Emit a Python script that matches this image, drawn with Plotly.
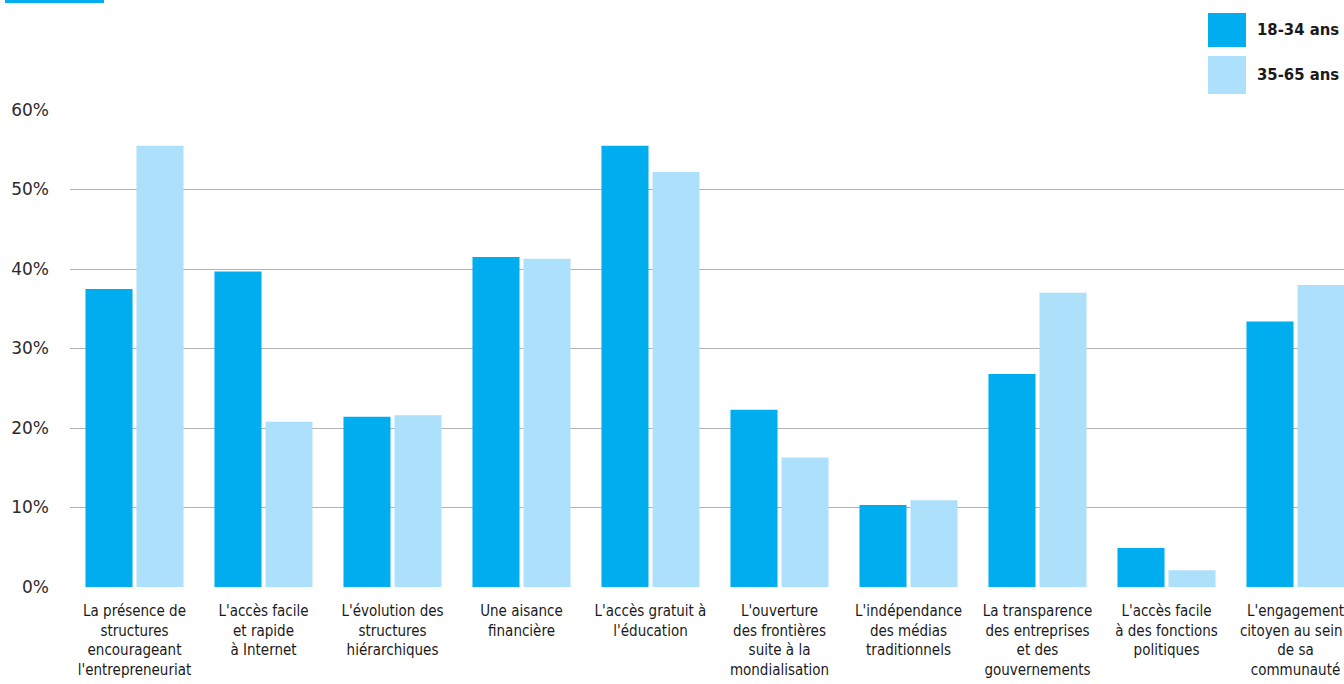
import plotly.graph_objects as go

# Data
categories = [
    "La présence de<br>structures<br>encourageant<br>l'entrepreneuriat",
    "L'accès facile<br>et rapide<br>à Internet",
    "L'évolution des<br>structures<br>hiérarchiques",
    "Une aisance<br>financière",
    "L'accès gratuit à<br>l'éducation",
    "L'ouverture<br>des frontières<br>suite à la<br>mondialisation",
    "L'indépendance<br>des médias<br>traditionnels",
    "La transparence<br>des entreprises<br>et des<br>gouvernements",
    "L'accès facile<br>à des fonctions<br>politiques",
    "L'engagement<br>citoyen au sein\u00a0\u00a0<br>de sa<br>communauté",
]
series_names = ["18-34 ans", "35-65 ans"]
young = [37.5, 39.7, 21.4, 41.5, 55.5, 22.3, 10.3, 26.8, 4.9, 33.4]
older = [55.5, 20.8, 21.6, 41.3, 52.2, 16.3, 10.9, 37.0, 2.1, 38.0]
y_ticks = [0, 10, 20, 30, 40, 50, 60]
y_tick_labels = ["0%", "10%", "20%", "30%", "40%", "50%", "60%"]

# Styling
W, H = 1344, 684
ML, MR, MT, MB = 70, 0, 110, 97
DARK = "#00aeef"
LIGHT = "#ade1fb"
TEXT = "#1a1a1a"
NARROW = "DejaVu Sans Condensed, DejaVu Sans, sans-serif"
CAT_W = 129  # pixel width of one category slot

pw = W - ML - MR
ph = H - MT - MB


def px_x(px):
    return (px - ML) / pw


def px_y(py):
    return 1 - (py - MT) / ph


x_idx = list(range(len(categories)))

fig = go.Figure()
fig.add_trace(go.Bar(x=x_idx, y=young, name=series_names[0],
                     marker=dict(color=DARK, line=dict(width=0))))
fig.add_trace(go.Bar(x=x_idx, y=older, name=series_names[1],
                     marker=dict(color=LIGHT, line=dict(width=0))))

fig.update_layout(
    width=W, height=H,
    margin=dict(l=ML, r=MR, t=MT, b=MB, pad=0, autoexpand=False),
    paper_bgcolor="white", plot_bgcolor="white",
    barmode="group", bargap=0.209, bargroupgap=0.078,
    showlegend=False,
    xaxis=dict(
        range=[-0.5, -0.5 + pw / CAT_W], automargin=False,
        tickmode="array", tickvals=x_idx, ticktext=categories,
        tickangle=0, showgrid=False, zeroline=False, showline=False,
        ticks="", ticklabelstandoff=13, ticklabeloverflow="allow",
        tickfont=dict(family=NARROW, size=15, color=TEXT),
    ),
    yaxis=dict(
        range=[0, 60], tickvals=y_ticks, ticktext=y_tick_labels,
        automargin=False,
        showgrid=True, gridcolor="#b3b3b3", gridwidth=1,
        zeroline=False, showline=False, ticks="",
        ticklabelstandoff=20,
        tickfont=dict(family="DejaVu Sans", size=17, color="#2b2b2b"),
    ),
)

shapes = [
    # Accent strip at the top-left corner
    dict(type="rect", xref="paper", yref="paper",
         x0=px_x(5), x1=px_x(104), y0=px_y(3), y1=px_y(-2),
         fillcolor=DARK, line=dict(width=0), layer="above"),
    # Legend swatches
    dict(type="rect", xref="paper", yref="paper",
         x0=px_x(1208), x1=px_x(1246), y0=px_y(47), y1=px_y(13),
         fillcolor=DARK, line=dict(width=0)),
    dict(type="rect", xref="paper", yref="paper",
         x0=px_x(1208), x1=px_x(1246), y0=px_y(94), y1=px_y(56),
         fillcolor=LIGHT, line=dict(width=0)),
]
fig.update_layout(shapes=shapes)

for name, yc in zip(series_names, [30, 75]):
    fig.add_annotation(
        text="<b>" + name + "</b>", xref="paper", yref="paper",
        x=px_x(1255), y=px_y(yc), xanchor="left", yanchor="middle",
        showarrow=False,
        font=dict(family=NARROW, size=16.5, color=TEXT),
    )

fig.write_html("out.html")
